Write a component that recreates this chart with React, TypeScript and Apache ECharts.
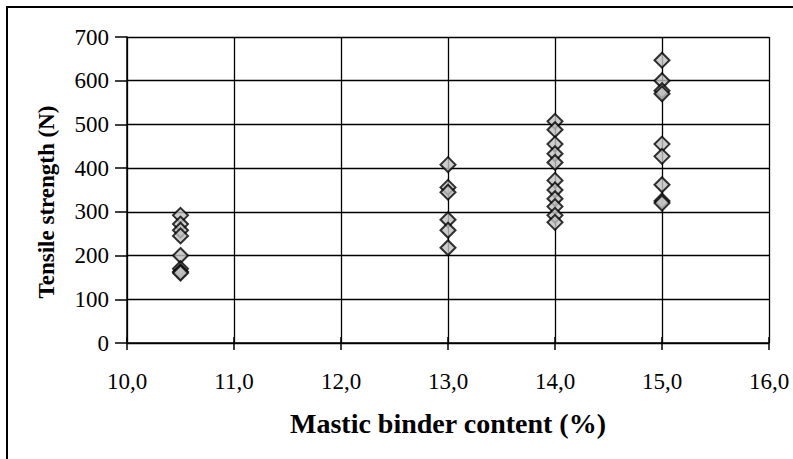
import React, { useEffect, useRef } from "react";
import * as echarts from "echarts";

const binder105 = [292, 272, 258, 245, 200, 170, 163, 160];
const binder130 = [408, 356, 345, 282, 258, 218];
const binder140 = [507, 488, 455, 433, 413, 372, 350, 330, 312, 292, 276];
const binder150 = [647, 600, 577, 570, 455, 427, 362, 325, 320];
const contents = [10.5, 13.0, 14.0, 15.0];
const groups = [binder105, binder130, binder140, binder150];

const xTitle = "Mastic binder content (%)";
const yTitle = "Tensile strength (N)";

export default function App() {
  const ref = useRef<HTMLDivElement>(null);
  useEffect(() => {
    const chart = echarts.init(ref.current!, null, { renderer: "svg" });
    const data: number[][] = [];
    groups.forEach((g, i) => g.forEach((v) => data.push([contents[i], v])));
    const font = "Liberation Serif";
    const rich = {
      t: { fontSize: 23, fontFamily: font, color: "#000", lineHeight: 26 },
    };
    chart.setOption({
      animation: false,
      backgroundColor: "#ffffff",
      grid: { left: 127, right: 24, top: 37, bottom: 116, containLabel: false },
      graphic: [
        {
          type: "rect",
          shape: { x: 7, y: 7, width: 900, height: 600 },
          style: { fill: "none", stroke: "#000", lineWidth: 2 },
          silent: true,
          z: 100,
        },
        {
          type: "text",
          x: 448,
          y: 423,
          style: {
            text: xTitle,
            fontFamily: font,
            fontWeight: "bold",
            fontSize: 28,
            fill: "#000",
            align: "center",
            verticalAlign: "middle",
          },
        },
        {
          type: "text",
          x: 46,
          y: 202,
          rotation: Math.PI / 2,
          style: {
            text: yTitle,
            fontFamily: font,
            fontWeight: "bold",
            fontSize: 23,
            fill: "#000",
            align: "center",
            verticalAlign: "middle",
          },
        },
      ],
      xAxis: [
        {
          type: "value",
          min: 10,
          max: 16,
          interval: 1,
          axisLine: { show: true, onZero: false, lineStyle: { color: "#000", width: 1.5 } },
          axisTick: { show: true, inside: false, length: 7, lineStyle: { color: "#000", width: 1.5 } },
          axisLabel: {
            show: true,
            margin: 25,
            fontSize: 23,
            fontFamily: font,
            color: "#000",
            rich,
            formatter: (v: number) => "{t|" + v.toFixed(1).replace(".", ",") + "}",
          },
          splitLine: { show: true, lineStyle: { color: "#000", width: 1.3 } },
        },
        {
          type: "value",
          position: "bottom",
          min: 10,
          max: 16,
          interval: 1,
          axisLine: { show: false },
          axisTick: { show: true, inside: true, length: 6, lineStyle: { color: "#000", width: 1.5 } },
          axisLabel: { show: false },
          splitLine: { show: false },
        },
      ],
      yAxis: {
        type: "value",
        min: 0,
        max: 700,
        interval: 100,
        axisLine: { show: true, lineStyle: { color: "#000", width: 1.5 } },
        axisTick: { show: true, inside: false, length: 12, lineStyle: { color: "#000", width: 1.5 } },
        axisLabel: {
          show: true,
          margin: 18,
          fontSize: 23,
          fontFamily: font,
          color: "#000",
          rich,
          formatter: (v: number) => "{t|" + v + "}",
        },
        splitLine: { show: true, lineStyle: { color: "#000", width: 1.3 } },
      },
      series: [
        {
          type: "scatter",
          xAxisIndex: 0,
          data,
          symbol: "diamond",
          symbolSize: 15,
          itemStyle: { color: "#c0c0c0", borderColor: "#000", borderWidth: 2 },
          z: 10,
        },
      ],
    });
    return () => chart.dispose();
  }, []);
  return <div ref={ref} style={{ width: 793, height: 459, position: "absolute", left: 0, top: 0 }} />;
}
